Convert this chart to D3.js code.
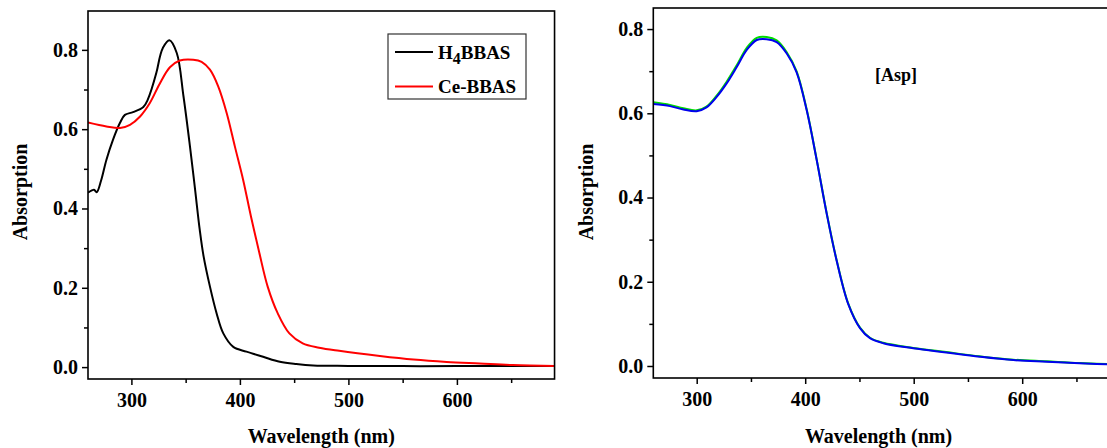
<!DOCTYPE html>
<html><head><meta charset="utf-8">
<script src="https://cdn.jsdelivr.net/npm/d3@7"></script>
<style>
body{margin:0;background:#fff;}
text{font-family:"Liberation Serif","Times New Roman",serif;font-weight:bold;fill:#000;}
</style></head>
<body><svg id="c" width="1107" height="448"></svg>
<script>
// ---- Left panel data ----
const wlH4 = [260,265.5,268,272,277,283,289.5,294,301.5,311,315,323,326.4,329,335,341.8,348,354,358.6,363,366.5,372.4,378.5,384.7,393.9,406,421.4,436.8,452,467.6,500,550,600,690];
const absH4 = [0.44,0.447,0.441,0.47,0.523,0.573,0.616,0.636,0.643,0.656,0.674,0.742,0.784,0.805,0.824,0.792,0.683,0.556,0.45,0.346,0.28,0.203,0.136,0.085,0.051,0.039,0.026,0.0134,0.0076,0.004,0.003,0.0025,0.0025,0.0025];
const wlCe = [260,277,289.5,298.7,308,317,326,335.5,344.7,357,364.7,372.4,380,387.8,395.4,403,410.2,418,425.6,434.8,445.6,457.9,473,491.5,529,560,590.6,621,651.6,690];
const absCe = [0.617,0.607,0.603,0.611,0.632,0.666,0.714,0.756,0.773,0.775,0.770,0.75,0.708,0.641,0.556,0.472,0.38,0.287,0.203,0.136,0.085,0.060,0.049,0.041,0.028,0.019,0.013,0.009,0.005,0.003];
// ---- Right panel data ----
const wlAsp = [260,275.4,287.7,300,309,318.4,327.6,336.9,346,355.3,364.5,373.7,383,392,401.4,410.6,419.8,429,439.7,450.5,459.7,472,499.6,530,561,591.8,622.6,653,690];
const absAspBlue = [0.622,0.617,0.609,0.605,0.614,0.639,0.671,0.710,0.750,0.774,0.776,0.769,0.742,0.698,0.607,0.489,0.362,0.250,0.147,0.090,0.066,0.054,0.042,0.032,0.022,0.014,0.010,0.0064,0.003];
const absAspGreen = [0.626,0.620,0.612,0.607,0.616,0.642,0.675,0.714,0.755,0.779,0.781,0.773,0.745,0.700,0.609,0.490,0.363,0.251,0.148,0.091,0.067,0.055,0.043,0.033,0.023,0.015,0.011,0.007,0.004];
const xTicks = [300,400,500,600];
const xMinor = [350,450,550,650];
const yTicks = [0.0,0.2,0.4,0.6,0.8];
const yMinor = [0.1,0.3,0.5,0.7];
const legendLabels = ["H4BBAS","Ce-BBAS"];

const svg = d3.select("#c");

function panel(o){
  const g = svg.append("g");
  const x = d3.scaleLinear().domain([260,690]).range([o.x0, o.x0 + 430*1.085]);
  const y = d3.scaleLinear().domain(o.ydom).range([o.y1, o.y0]);
  const W = x.range()[1]-o.x0;
  const id = "clip"+o.id;
  svg.append("clipPath").attr("id",id).append("rect").attr("x",o.x0).attr("y",o.y0).attr("width",W).attr("height",o.y1-o.y0);
  const line = d3.line().x(d=>x(d[0])).y(d=>y(d[1])).curve(d3.curveCatmullRom.alpha(0.5));
  o.series.forEach(s=>{
    g.append("path").attr("clip-path",`url(#${id})`).datum(s.w.map((w,i)=>[w,s.v[i]]))
      .attr("d",line).attr("fill","none").attr("stroke",s.color).attr("stroke-width",2);
  });
  g.append("rect").attr("x",o.x0).attr("y",o.y0).attr("width",W).attr("height",o.y1-o.y0)
    .attr("fill","none").attr("stroke","#000").attr("stroke-width",1.6);
  g.append("g").attr("transform",`translate(0,${o.y1})`)
    .call(d3.axisBottom(x).tickValues(xTicks).tickSize(6).tickPadding(8).tickFormat(d3.format("d")));
  g.append("g").attr("transform",`translate(0,${o.y1})`)
    .call(d3.axisBottom(x).tickValues(xMinor).tickSize(4).tickFormat(""));
  g.append("g").attr("transform",`translate(${o.x0},0)`)
    .call(d3.axisLeft(y).tickValues(yTicks).tickSize(6).tickPadding(4).tickFormat(d3.format(".1f")));
  g.append("g").attr("transform",`translate(${o.x0},0)`)
    .call(d3.axisLeft(y).tickValues(yMinor).tickSize(4).tickFormat(""));
  g.selectAll(".domain").remove();
  g.selectAll(".tick line").attr("stroke","#000").attr("stroke-width",1.5);
  g.selectAll(".tick text").style("font-family","Liberation Serif").style("font-weight","bold").style("font-size","20px").attr("fill","#000");
  g.append("text").attr("x",o.x0+W/2-(o.id==="R"?8:0)).attr("y",443).attr("text-anchor","middle").style("font-size","20px").text("Wavelength (nm)");
  g.append("text").attr("transform",`translate(${o.labX},192) rotate(-90)`).attr("text-anchor","middle").style("font-size","20px").text("Absorption");
  return {g,x,y};
}

const L = panel({id:"L",x0:88,y0:11,y1:379,ydom:[-0.03,0.898],labX:27,
  series:[{w:wlH4,v:absH4,color:"#000"},{w:wlCe,v:absCe,color:"#ff0000"}]});
const R = panel({id:"R",x0:653.3,y0:8,y1:378,ydom:[-0.0285,0.85],labX:593,
  series:[{w:wlAsp,v:absAspGreen,color:"#00dd00"},{w:wlAsp,v:absAspBlue,color:"#0000ee"}]});

const lg = L.g.append("g");
lg.append("rect").attr("x",388).attr("y",34).attr("width",138).attr("height",65).attr("fill","#fff").attr("stroke","#333").attr("stroke-width",1.2);
const lc = ["#000","#ff0000"];
legendLabels.forEach((t,i)=>{
  const yy = 52 + i*34.5;
  lg.append("line").attr("x1",395).attr("x2",433).attr("y1",yy).attr("y2",yy).attr("stroke",lc[i]).attr("stroke-width",1.8);
  const tx = lg.append("text").attr("x",438).attr("y",yy+6.5).style("font-size","19px");
  if(t==="H4BBAS"){
    tx.append("tspan").text("H");
    tx.append("tspan").attr("dy",5).style("font-size","16px").text("4");
    tx.append("tspan").attr("dy",-5).text("BBAS");
  } else tx.text(t);
});
R.g.append("text").attr("x",896).attr("y",81).attr("text-anchor","middle").style("font-size","18px").text("[Asp]");
</script></body></html>
